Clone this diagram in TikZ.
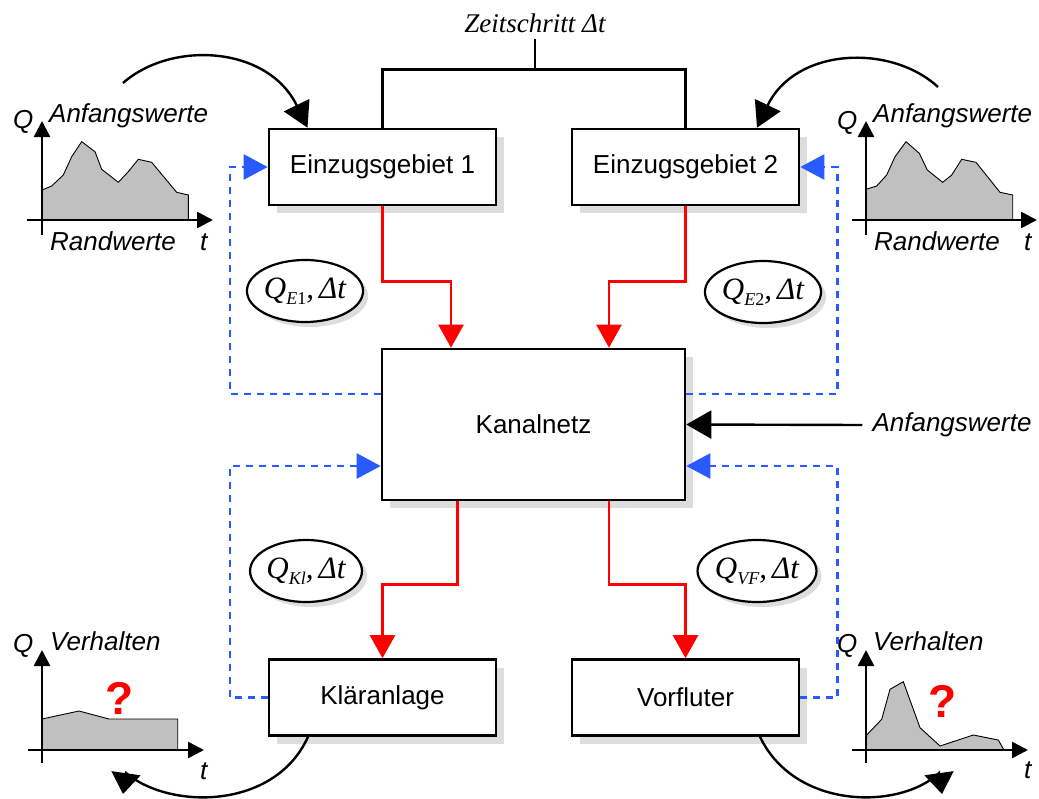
\documentclass[tikz,border=0pt]{standalone}
\usepackage{fontspec}
\setmainfont{Liberation Sans}
\newfontfamily\tms{Liberation Serif}
\usetikzlibrary{arrows.meta,shadows,shapes.geometric,calc}
\newcommand\fsz[1]{\fontsize{#1}{#1}\selectfont}
\newcommand\qlab[1]{{\tms\fsz{31}\itshape Q\raisebox{-6pt}{\fsz{18}#1},\,\itshape Δt}}
\definecolor{dblue}{RGB}{40,90,255}
\definecolor{shade}{RGB}{221,221,221}
\definecolor{areagray}{RGB}{192,192,192}
\begin{document}
\begin{tikzpicture}[x=1pt,y=-1pt,
 box/.style={draw,line width=2.6pt,fill=white,minimum width=227pt,minimum height=76pt,inner sep=0pt,font=\fsz{26},
   drop shadow={shadow xshift=8pt,shadow yshift=-8pt,fill=shade,opacity=1}},
 lab/.style={draw,ellipse,line width=2.2pt,fill=white,minimum width=110pt,minimum height=62pt,inner sep=0pt,
   drop shadow={shadow xshift=5pt,shadow yshift=-5pt,fill=shade,opacity=1}},
 redarr/.style={draw=red,line width=2.4pt,-{Triangle[length=23pt,width=25pt]}},
 bluearr/.style={draw=dblue,line width=2.4pt,dash pattern=on 7pt off 6pt,-{Triangle[length=24pt,width=25pt]}},
 blkarr/.style={draw=black,line width=2.4pt,-{Triangle[length=25pt,width=28pt]}},
 downarr/.style={draw=black,line width=2.4pt,-{Triangle[length=21pt,width=29pt]}},
 axis/.style={line width=2.6pt,-{Triangle[length=16pt,width=16pt]}},
 area/.style={fill=areagray,draw=black,line width=0.9pt},
 ital/.style={font=\fsz{26}\itshape,inner sep=0pt,anchor=base west},
 qm/.style={font=\fsz{46}\bfseries,text=red,inner sep=0pt}
]
\useasboundingbox (0,0) rectangle (1039,798);

% charts
\draw[area] (42,220) -- (42,190) -- (51.7,186) -- (63.3,175) -- (71.7,156.7) -- (81.7,141.7) -- (95,151.7) -- (101.7,169.3) -- (118.3,182.3) -- (128.3,171.7) -- (138.3,159.3) -- (151.7,162.3) -- (176.7,192.3) -- (188.3,195) -- (188.3,220) -- cycle;
\draw[axis] (42,235) -- (42,121);
\draw[axis] (27,220) -- (213,220);
\node[ital] (q1) at (13,128) {Q};
\node[ital] (a1) at (49,122) {Anfangswerte};
\node[ital] (r1) at (50,250) {Randwerte};
\node[ital] (t1) at (200,250) {t};

\draw[area] (866,220) -- (866,189.3) -- (876.7,186) -- (886.7,175) -- (895,156.7) -- (906,141.7) -- (919.3,153.3) -- (927.3,170) -- (942.7,182.3) -- (951.7,175) -- (961.7,159.3) -- (976,162.3) -- (1000,192.3) -- (1012.7,195) -- (1012.7,220) -- cycle;
\draw[axis] (866,235) -- (866,121);
\draw[axis] (852,220) -- (1037,220);
\node[ital] (q2) at (837,129) {Q};
\node[ital] (a2) at (873,122) {Anfangswerte};
\node[ital] (r2) at (874,250) {Randwerte};
\node[ital] (t2) at (1024,250) {t};

\draw[area] (42,750) -- (42,719) -- (79,711) -- (109,719) -- (177.7,719) -- (177.7,750) -- cycle;
\draw[axis] (42,763) -- (42,650);
\draw[axis] (28,750) -- (204,750);
\node[ital] (q3) at (13,652) {Q};
\node[ital] (v3) at (50,650) {Verhalten};
\node[ital] (t3) at (200,779) {t};
\node[qm] (qm3) at (120,698) {?};

\draw[area] (866,750) -- (866.7,735) -- (881.7,719.3) -- (890,689.3) -- (903.3,681.7) -- (920,727.7) -- (940,746) -- (973.3,735) -- (998.3,740) -- (1004,750) -- cycle;
\draw[axis] (866,763) -- (866,650);
\draw[axis] (852,750) -- (1028,750);
\node[ital] (q4) at (837,652) {Q};
\node[ital] (v4) at (873,650) {Verhalten};
\node[ital] (t4) at (1024,778) {t};
\node[qm] (qm4) at (943,701) {?};

% boxes
\node[box] (E1) at (382.5,167) {Einzugsgebiet 1};
\node[box] (E2) at (685.5,167) {Einzugsgebiet 2};
\node[box,minimum width=303pt,minimum height=151pt] (K) at (533.5,424.5) {Kanalnetz};
\node[box] (Kl) at (382.5,697.5) {Kläranlage};
\node[box] (V) at (685.5,697.5) {Vorfluter};

% ellipses
\node[lab] (LE1) at (305,291) {\qlab{E\textup{1}}};
\node[lab] (LE2) at (763,292) {\qlab{E\textup{2}}};
\node[lab] (LKl) at (306,571) {\qlab{Kl}};
\node[lab] (LVF) at (757,571) {\qlab{VF}};

% time step
\node[font=\tms\itshape\fsz{27},anchor=base,inner sep=0pt] (Z) at (535,32) {Zeitschritt Δt};
\draw[line width=2.4pt] ([yshift=-7pt]Z.south) -- ++(0,30) coordinate (T);
\draw[line width=2.4pt] (E1.north) |- (T) -| (E2.north);

% red flows
\draw[redarr] (E1.south) -- ++(0,75) -| ([xshift=-82.5pt]K.north);
\draw[redarr] (E2.south) -- ++(0,75) -| ([xshift=75.5pt]K.north);
\draw[redarr] ([xshift=-76pt]K.south) -- ++(0,83) -| (Kl.north);
\draw[redarr] ([xshift=75.5pt]K.south) -- ++(0,83) -| (V.north);

% blue feedback
\draw[bluearr] ([yshift=30.5pt]K.west) -- ++(-151,0) |- (E1.west);
\draw[bluearr] ([yshift=30.5pt]K.east) -- ++(151,0) |- (E2.east);
\draw[bluearr] (Kl.west) -- ++(-38,0) |- ([yshift=-41.5pt]K.west);
\draw[bluearr] (V.east) -- ++(37,0) |- ([yshift=-41.5pt]K.east);

% right initial values
\node[ital,anchor=center] (AW) at (952,425) {Anfangswerte};
\draw[blkarr] ([xshift=-10pt]AW.west) -- (K.east);

% curved arrows
\coordinate (c1) at (123,83);
\coordinate (c2) at (938,87);
\coordinate (c3) at (123,794);
\coordinate (c4) at (942,794);
\draw[blkarr] (c1) .. controls (172,40) and (268,46) .. ([xshift=-75pt]E1.north);
\draw[blkarr] (c2) .. controls (890,43) and (795,48) .. ([xshift=71.5pt]E2.north);
\draw[downarr] ([xshift=-74.5pt]Kl.south) .. controls (275,810) and (170,810) .. (126,773) -- (c3);
\draw[downarr] ([xshift=74.5pt]V.south) .. controls (795,810) and (900,810) .. (939,773) -- (c4);
\end{tikzpicture}
\end{document}
